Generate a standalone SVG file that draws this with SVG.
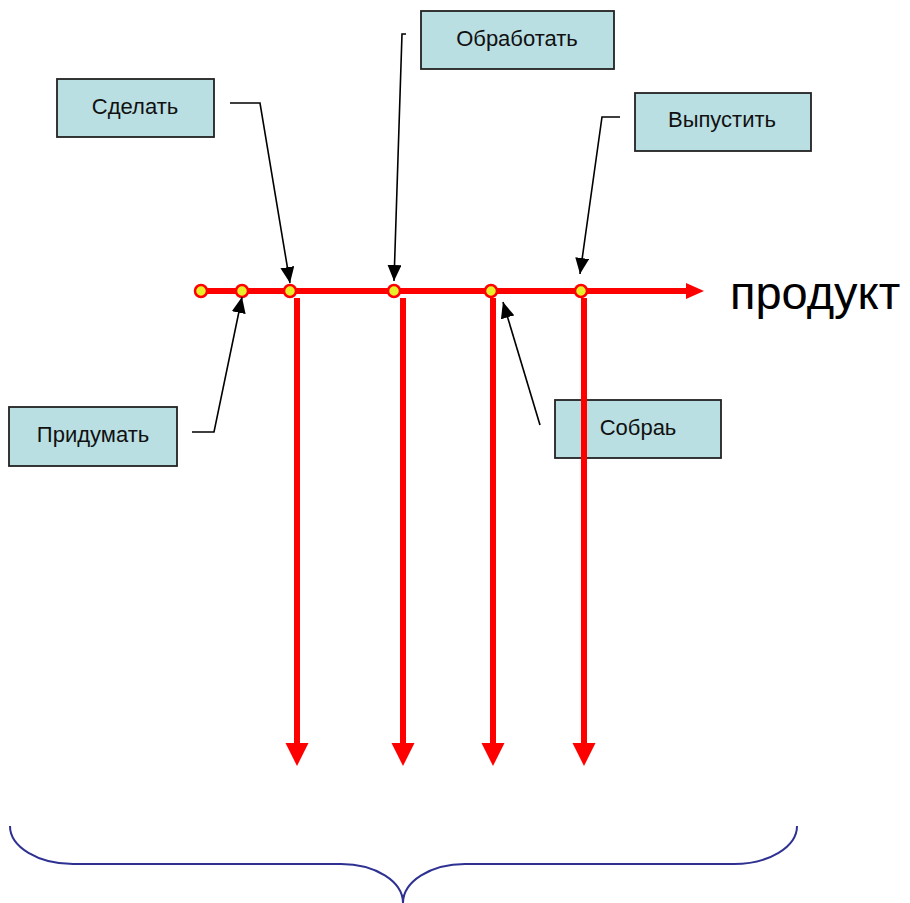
<svg xmlns="http://www.w3.org/2000/svg" width="910" height="903" viewBox="0 0 910 903">
<style>
.box{fill:#b9dfe3;stroke:#222;stroke-width:1.8}
.lbl{font-family:"Liberation Sans",Arial,sans-serif;font-size:22px;fill:#111;text-anchor:middle}
.con{fill:none;stroke:#000;stroke-width:1.6}
.red{stroke:#ff0000;stroke-width:6;fill:none}
.ra{fill:#ff0000}
.dot{fill:#e6ef2a;stroke:#ff0000;stroke-width:2.5}
</style>
<defs>
<marker id="ah" markerUnits="userSpaceOnUse" markerWidth="16" markerHeight="14" refX="16" refY="7" orient="auto">
<path d="M0,0 L16,7 L0,14 Z" fill="#000"/>
</marker>
</defs>
<rect width="910" height="903" fill="#fff"/>
<g id="node-sdelat"><rect class="box" x="57" y="79" width="157" height="58"/><text class="lbl" x="135" y="114">Сделать</text></g>
<g id="node-obrabotat"><rect class="box" x="421" y="11" width="193" height="58"/><text class="lbl" x="517" y="46">Обработать</text></g>
<g id="node-vypustit"><rect class="box" x="635" y="93" width="176" height="58"/><text class="lbl" x="722" y="127">Выпустить</text></g>
<g id="node-pridumat"><rect class="box" x="9" y="407" width="168" height="59"/><text class="lbl" x="93" y="442">Придумать</text></g>
<g id="node-sobrat"><rect class="box" x="555" y="400" width="166" height="58"/><text class="lbl" x="638" y="435">Собраь</text></g>
<g id="node-produkt"><text x="730" y="309" style="font-family:'Liberation Sans',Arial,sans-serif;font-size:47px;fill:#000">продукт</text></g>
<g id="connectors">
<line class="red" x1="200" y1="291" x2="688" y2="291"/>
<polygon class="ra" points="686,283 704,291 686,299"/>
<line class="red" x1="297" y1="298" x2="297" y2="745"/>
<polygon class="ra" points="285.5,743 308.5,743 297,766"/>
<line class="red" x1="403" y1="298" x2="403" y2="745"/>
<polygon class="ra" points="391.5,743 414.5,743 403,766"/>
<line class="red" x1="493" y1="298" x2="493" y2="745"/>
<polygon class="ra" points="481.5,743 504.5,743 493,766"/>
<line class="red" x1="584" y1="298" x2="584" y2="745"/>
<polygon class="ra" points="572.5,743 595.5,743 584,766"/>
<circle class="dot" cx="201" cy="291" r="6"/>
<circle class="dot" cx="242" cy="291" r="6"/>
<circle class="dot" cx="290" cy="291" r="6"/>
<circle class="dot" cx="394" cy="291" r="6"/>
<circle class="dot" cx="491" cy="291" r="6"/>
<circle class="dot" cx="581" cy="291" r="6"/>
<polyline class="con" points="230,103 260,103 290,283" marker-end="url(#ah)"/>
<polyline class="con" points="406,34 402,34 394,281" marker-end="url(#ah)"/>
<polyline class="con" points="620,117 602,117 580,274" marker-end="url(#ah)"/>
<polyline class="con" points="192,432 214,432 242,297" marker-end="url(#ah)"/>
<polyline class="con" points="540,425 503,302" marker-end="url(#ah)"/>
<path d="M10,826 A63,38 0 0 0 73,864 L341,864 A62,39 0 0 1 403,903 A62,39 0 0 1 465,864 L734,864 A63,38 0 0 0 797,826" fill="none" stroke="#2e3192" stroke-width="2"/>
</g>
</svg>
